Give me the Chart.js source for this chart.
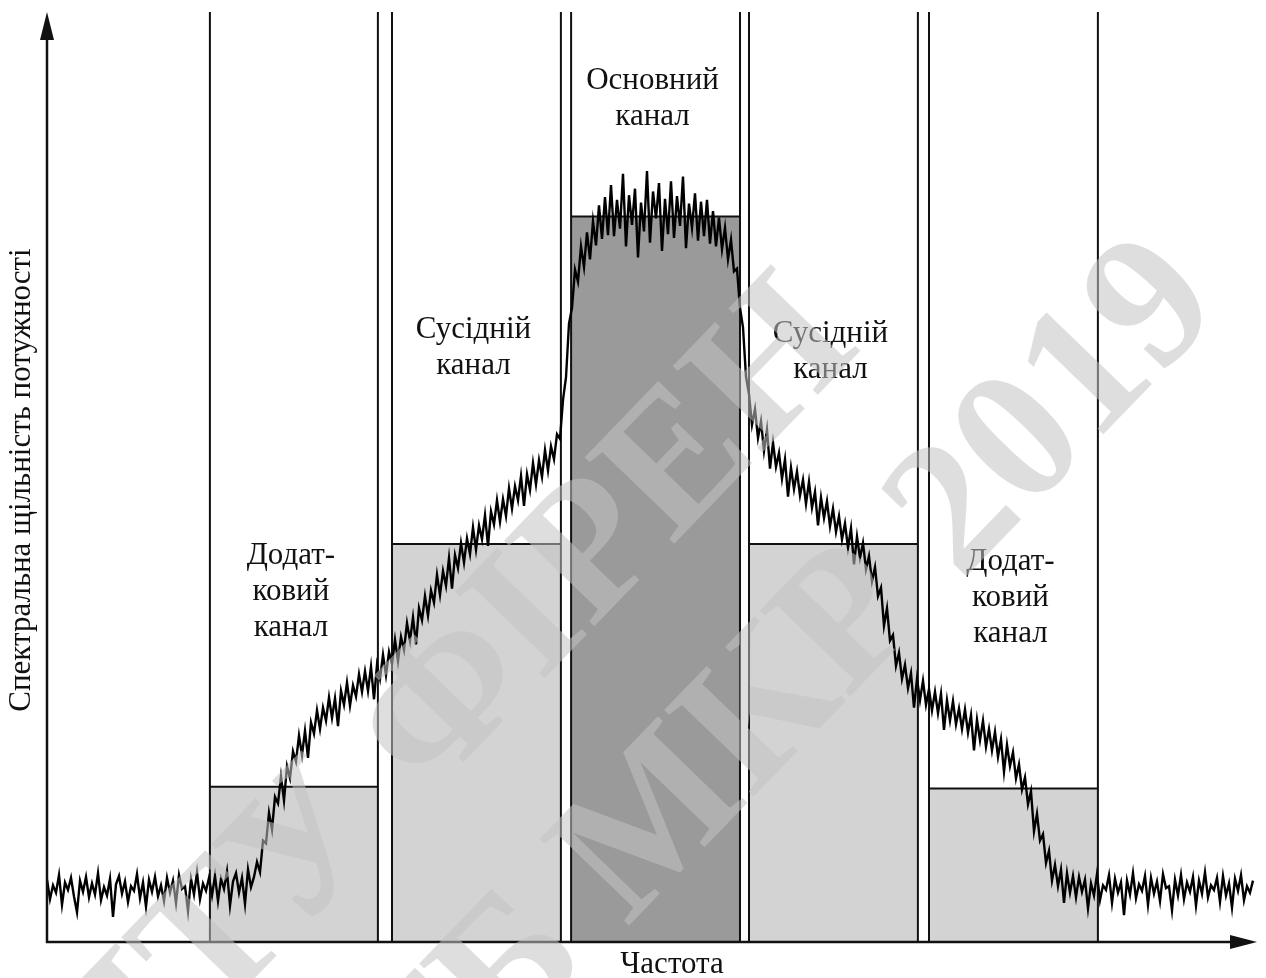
<!DOCTYPE html>
<html>
<head>
<meta charset="utf-8">
<title>Спектральна щільність потужності</title>
<script src="https://cdn.jsdelivr.net/npm/chart.js@4.4.1/dist/chart.umd.min.js"></script>
<style>
  html, body { margin: 0; padding: 0; background: #fff; }
  canvas { display: block; }
</style>
</head>
<body>
<canvas id="psd" width="1266" height="978"></canvas>
<script>
// measured spectrum, one value per frequency bin (relative power, 0..100)
const psd = [
  6.7, 4.6, 6.1, 5.3, 7.2, 4.0, 6.4, 5.6, 6.9, 4.9, 3.2, 6.6, 5.4, 7.0, 4.8, 6.3, 5.1, 7.4, 4.5, 5.9,
  5.0, 6.8, 2.7, 6.2, 7.1, 5.2, 6.5, 4.3, 6.0, 5.5, 7.3, 4.7, 6.4, 3.8, 6.7, 5.4, 7.0, 4.9, 6.1, 4.4,
  6.9, 5.3, 6.6, 4.2, 7.2, 5.7, 6.0, 3.3, 6.8, 5.1, 7.5, 4.6, 6.3, 5.5, 6.9, 5.0, 7.1, 4.4, 6.8, 5.7,
  7.6, 3.9, 6.5, 7.4, 5.3, 6.9, 4.1, 7.8, 5.9, 7.0, 8.6, 7.5, 10.9, 10.6, 13.9, 12.1, 15.6, 14.9, 17.8, 15.2,
  18.9, 17.6, 20.5, 19.4, 22.2, 20.1, 22.7, 19.8, 23.6, 22.4, 24.9, 22.9, 25.2, 23.8, 26.3, 24.1, 26.2, 23.2, 27.0, 25.5,
  27.9, 25.4, 27.6, 26.4, 28.8, 26.9, 29.1, 27.0, 29.6, 26.1, 29.8, 28.3, 30.9, 28.7, 31.2, 29.9, 32.5, 30.2, 32.8, 31.4,
  34.3, 32.4, 34.9, 32.0, 35.9, 34.6, 37.2, 35.1, 37.8, 36.5, 39.5, 37.3, 39.9, 38.3, 41.3, 38.0, 41.6, 40.2, 42.9, 40.8,
  43.4, 41.7, 44.6, 42.2, 44.8, 43.3, 45.9, 42.6, 46.3, 44.9, 47.5, 45.2, 47.6, 45.8, 48.8, 46.6, 49.0, 47.5, 50.1, 46.9,
  50.3, 48.6, 51.5, 49.2, 51.8, 50.0, 52.9, 50.7, 53.3, 51.9, 54.6, 54.1, 58.3, 60.7, 66.5, 68.2, 72.3, 71.0, 74.8, 72.6,
  76.3, 73.4, 77.5, 74.9, 79.2, 75.6, 80.1, 76.0, 81.4, 75.9, 79.8, 76.7, 82.6, 74.8, 80.3, 77.1, 81.0, 73.6, 79.5, 76.4,
  82.9, 75.2, 80.7, 77.8, 81.6, 74.3, 79.9, 76.1, 81.8, 75.7, 80.2, 77.0, 82.3, 74.6, 79.4, 76.8, 80.5, 75.4, 79.6, 75.9,
  79.8, 75.1, 78.6, 74.8, 77.9, 74.5, 76.8, 73.4, 75.5, 72.1, 72.4, 68.2, 66.1, 60.8, 58.9, 55.6, 57.3, 54.2, 56.0, 52.8,
  55.1, 50.9, 53.7, 51.1, 52.6, 49.8, 51.9, 47.9, 51.0, 48.7, 50.6, 48.0, 49.7, 47.1, 49.5, 46.7, 48.4, 44.8, 47.8, 45.6,
  47.4, 44.7, 46.6, 44.1, 45.8, 43.3, 45.0, 42.4, 44.5, 40.6, 43.6, 41.3, 42.9, 40.1, 41.5, 38.8, 40.3, 37.2, 38.1, 34.0,
  35.9, 32.4, 33.0, 29.7, 31.1, 28.3, 29.8, 27.3, 28.9, 25.2, 28.3, 26.0, 28.1, 25.5, 27.2, 24.9, 26.9, 24.6, 26.7, 22.8,
  26.0, 23.8, 25.9, 23.4, 25.1, 22.9, 25.0, 22.5, 24.4, 20.6, 23.9, 21.7, 23.8, 21.0, 22.9, 20.6, 22.6, 19.9, 21.8, 18.3,
  21.2, 18.9, 20.4, 17.6, 19.1, 16.4, 17.7, 14.8, 16.2, 11.9, 13.8, 10.9, 11.6, 8.5, 9.8, 6.6, 8.3, 6.0, 7.8, 4.2,
  7.4, 5.3, 7.1, 4.8, 7.0, 5.4, 6.7, 3.6, 6.3, 5.0, 7.3, 4.5, 6.1, 5.6, 7.2, 4.2, 6.8, 5.3, 6.4, 2.9,
  6.6, 5.1, 7.4, 4.7, 6.2, 5.5, 7.1, 4.0, 6.9, 5.2, 6.5, 4.4, 7.3, 5.8, 6.0, 3.4, 6.7, 5.0, 7.2, 4.6,
  6.4, 5.4, 7.0, 3.9, 6.6, 5.2, 7.5, 4.8, 6.1, 5.6, 6.9, 4.3, 7.1, 5.0, 6.3, 3.7, 6.8, 5.5, 7.2, 4.5,
  6.0, 5.3, 6.6
];

// channels: edges in bins and the power level assigned to each
const chanNames = [
  ['Додат-', 'ковий', 'канал'],
  ['Сусідній', 'канал'],
  ['Основний', 'канал'],
  ['Сусідній', 'канал'],
  ['Додат-', 'ковий', 'канал']
];
const chanStart = [54.3, 115.0, 174.7, 234.0, 294.0];
const chanEnd   = [110.3, 171.3, 231.0, 290.3, 350.3];
const chanLevel = [16.7, 42.8, 78.0, 42.8, 16.5];

const yTitle = 'Спектральна щільність потужності';
const xTitle = 'Частота';
const stamp = ['ДТУ ФІРЕН', 'НТБ МКР 2019'];

// looks
const chanFill = ['#d3d3d3', '#d3d3d3', '#9a9a9a', '#d3d3d3', '#d3d3d3'];
const labelTop = [556, 330, 81, 334, 562];   // px of the first text line
const SERIF = '"Liberation Serif", "DejaVu Serif", serif';

const levelSets = chanLevel.map((lvl, i) => ({
  data: [{ x: chanStart[i], y: lvl }, { x: chanEnd[i], y: lvl }],
  borderColor: '#111',
  borderWidth: 2,
  backgroundColor: chanFill[i],
  fill: 'origin',
  pointRadius: 0,
  order: 3
}));

// vertical channel edges, separated by gaps
const edges = [];
chanStart.forEach((s, i) => {
  edges.push({ x: s, y: 0 }, { x: s, y: 100 }, { x: s, y: null });
  edges.push({ x: chanEnd[i], y: 0 }, { x: chanEnd[i], y: 100 }, { x: chanEnd[i], y: null });
});

const decor = {
  id: 'decor',
  afterDatasetsDraw(chart) {
    const { ctx, scales: { x, y } } = chart;
    const x0 = x.getPixelForValue(0);
    const y0 = y.getPixelForValue(0);
    const yTop = y.getPixelForValue(100);
    const xEnd = x.right + 2;

    ctx.save();
    // axes with arrows
    ctx.strokeStyle = '#111';
    ctx.fillStyle = '#111';
    ctx.lineWidth = 2.5;
    ctx.beginPath();
    ctx.moveTo(x0, y0 + 1);
    ctx.lineTo(x0, yTop + 20);
    ctx.moveTo(x0 - 1, y0);
    ctx.lineTo(xEnd - 20, y0);
    ctx.stroke();
    ctx.beginPath();
    ctx.moveTo(x0, yTop);
    ctx.lineTo(x0 - 7, yTop + 28);
    ctx.lineTo(x0 + 7, yTop + 28);
    ctx.closePath();
    ctx.fill();
    ctx.beginPath();
    ctx.moveTo(xEnd, y0);
    ctx.lineTo(xEnd - 27, y0 - 7);
    ctx.lineTo(xEnd - 27, y0 + 7);
    ctx.closePath();
    ctx.fill();

    // axis titles
    ctx.font = '31px ' + SERIF;
    ctx.textAlign = 'center';
    ctx.textBaseline = 'middle';
    ctx.fillText(xTitle, 672, 965);
    ctx.save();
    ctx.translate(22, 480);
    ctx.rotate(-Math.PI / 2);
    ctx.fillText(yTitle, 0, 0);
    ctx.restore();

    // channel captions
    chanNames.forEach((lines, i) => {
      const cx = x.getPixelForValue((chanStart[i] + chanEnd[i]) / 2) - 3;
      lines.forEach((t, k) => ctx.fillText(t, cx, labelTop[i] + k * 36));
    });

    // stamp across the figure
    ctx.font = 'bold 190px ' + SERIF;
    ctx.fillStyle = 'rgba(194, 194, 194, 0.55)';
    [[455, 700], [735, 745]].forEach(([sx, sy], i) => {
      ctx.save();
      ctx.translate(sx, sy);
      ctx.rotate(-46 * Math.PI / 180);
      ctx.fillText(stamp[i], 0, 0);
      ctx.restore();
    });
    ctx.restore();
  }
};

new Chart(document.getElementById('psd'), {
  type: 'line',
  data: {
    datasets: [
      {
        data: psd.map((v, i) => ({ x: i, y: v })),
        borderColor: '#000',
        borderWidth: 2.4,
        pointRadius: 0,
        tension: 0,
        fill: false,
        order: 1
      },
      {
        data: edges,
        borderColor: '#111',
        borderWidth: 2,
        pointRadius: 0,
        spanGaps: false,
        fill: false,
        order: 2
      },
      ...levelSets
    ]
  },
  options: {
    responsive: false,
    animation: false,
    devicePixelRatio: 1,
    layout: { padding: { left: 47, right: 11, top: 12, bottom: 36 } },
    plugins: { legend: { display: false }, tooltip: { enabled: false } },
    scales: {
      x: { type: 'linear', min: 0, max: 402.67, display: false },
      y: { min: 0, max: 100, display: false }
    }
  },
  plugins: [decor]
});
</script>
</body>
</html>
